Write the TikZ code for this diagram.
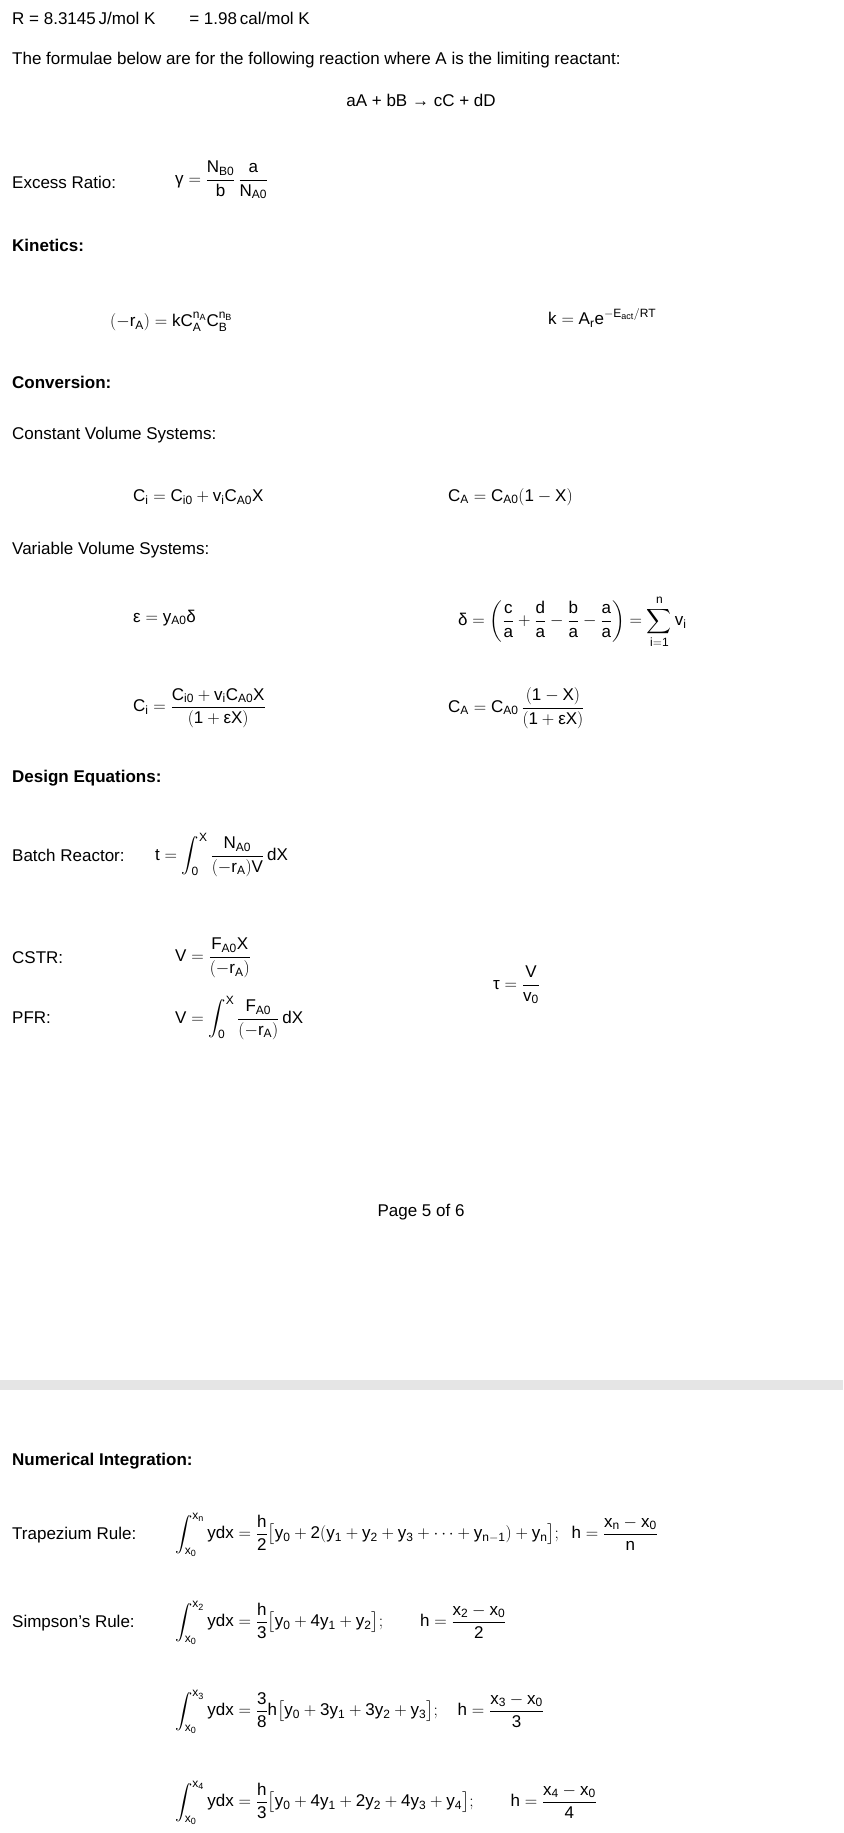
\documentclass[tikz,border=0pt]{standalone}
\usepackage{amsmath}
\usepackage{fontspec}
\setmainfont{Liberation Sans}
\DeclareMathSizes{17}{17}{12}{9}
\newcommand{\mr}[1]{\mathrm{#1}}
\begin{document}
\begin{tikzpicture}[x=1pt,y=-1pt,
    txt/.style={anchor=west,inner sep=0pt,font=\fontsize{17}{20}\selectfont},
    head/.style={txt,font=\fontsize{17}{20}\selectfont\bfseries},
    eqn/.style={txt}]

    \useasboundingbox[fill=white] (0,0) rectangle (843,1833);
    \fill[gray!20] (0,1380) rectangle (843,1390);

    \node[txt] (gas) at (12,18) {R = 8.3145\,J/mol K\qquad = 1.98\,cal/mol K};
    \node[txt] (intro) at (12,60) {The formulae below are for the following reaction where A is the limiting reactant:};
    \node[txt,anchor=center] (rxn) at (421,100) {aA + bB → cC + dD};

    \node[txt] (exl) at (12,182) {Excess Ratio:};
    \node[eqn] (exs) at (175,180) {$\displaystyle \text{γ} = \frac{\mr{N_{B0}}}{\mr{b}}\,\frac{\mr{a}}{\mr{N_{A0}}}$};

    \node[head] (kin) at (12,245) {Kinetics:};
    \node[eqn] (rate) at (110,322) {$(-\mr{r_A}) = \mr{kC_A^{n_A}C_B^{n_B}}$};
    \node[eqn] (arr) at (548,318) {$\mr{k} = \mr{A_re}^{-\mr{E_{act}}/\mr{RT}}$};

    \node[head] (conv) at (12,382) {Conversion:};
    \node[txt] (cvs) at (12,435) {Constant Volume Systems:};
    \node[eqn] (ci1) at (133,497) {$\mr{C_i} = \mr{C_{i0}} + \mr{v_iC_{A0}X}$};
    \node[eqn] (ca1) at (448,497) {$\mr{C_A} = \mr{C_{A0}}(\mr{1}-\mr{X})$};
    \node[txt] (vvs) at (12,550) {Variable Volume Systems:};
    \node[eqn] (eps) at (133,618) {$\text{ε} = \mr{y_{A0}}\text{δ}$};
    \node[eqn] (del) at (458,622) {$\displaystyle \text{δ} = \left(\frac{\mr{c}}{\mr{a}}+\frac{\mr{d}}{\mr{a}}-\frac{\mr{b}}{\mr{a}}-\frac{\mr{a}}{\mr{a}}\right) = \sum_{\mr{i=1}}^{\mr{n}}\mr{v_i}$};
    \node[eqn] (ci2) at (133,708) {$\displaystyle \mr{C_i} = \frac{\mr{C_{i0}} + \mr{v_iC_{A0}X}}{(\mr{1}+\text{ε}\mr{X})}$};
    \node[eqn] (ca2) at (448,708) {$\displaystyle \mr{C_A} = \mr{C_{A0}}\,\frac{(\mr{1}-\mr{X})}{(\mr{1}+\text{ε}\mr{X})}$};

    \node[head] (des) at (12,778) {Design Equations:};
    \node[txt] (batl) at (12,855) {Batch Reactor:};
    \node[eqn] (bat) at (155,855) {$\displaystyle \mr{t} = \int_{\mr{0}}^{\mr{X}} \frac{\mr{N_{A0}}}{(-\mr{r_A})\mr{V}}\,\mr{dX}$};
    \node[txt] (cstrl) at (12,958) {CSTR:};
    \node[eqn] (cstr) at (175,958) {$\displaystyle \mr{V} = \frac{\mr{F_{A0}X}}{(-\mr{r_A})}$};
    \node[eqn] (tau) at (493,985) {$\displaystyle \text{τ} = \frac{\mr{V}}{\mr{v_0}}$};
    \node[txt] (pfrl) at (12,1018) {PFR:};
    \node[eqn] (pfr) at (175,1018) {$\displaystyle \mr{V} = \int_{\mr{0}}^{\mr{X}} \frac{\mr{F_{A0}}}{(-\mr{r_A})}\,\mr{dX}$};

    \node[txt,anchor=center] (page) at (421,1212) {Page 5 of 6};

    % second page
    \node[head] (num) at (12,1461) {Numerical Integration:};
    \node[txt] (trapl) at (12,1535) {Trapezium Rule:};
    \node[eqn] (trap) at (175,1535) {$\displaystyle \int_{\mr{x_0}}^{\mr{x_n}}\mr{ydx} = \frac{\mr{h}}{\mr{2}}\bigl[\mr{y_0} + \mr{2}(\mr{y_1}+\mr{y_2}+\mr{y_3}+\cdots+\mr{y_{n-1}}) + \mr{y_n}\bigr];\;\; \mr{h} = \frac{\mr{x_n}-\mr{x_0}}{\mr{n}}$};
    \node[txt] (simpl) at (12,1623) {Simpson's Rule:};
    \node[eqn] (simp1) at (175,1623) {$\displaystyle \int_{\mr{x_0}}^{\mr{x_2}}\mr{ydx} = \frac{\mr{h}}{\mr{3}}\bigl[\mr{y_0} + \mr{4y_1} + \mr{y_2}\bigr];\qquad \mr{h} = \frac{\mr{x_2}-\mr{x_0}}{\mr{2}}$};
    \node[eqn] (simp2) at (175,1712) {$\displaystyle \int_{\mr{x_0}}^{\mr{x_3}}\mr{ydx} = \frac{\mr{3}}{\mr{8}}\mr{h}\bigl[\mr{y_0} + \mr{3y_1} + \mr{3y_2} + \mr{y_3}\bigr];\quad \mr{h} = \frac{\mr{x_3}-\mr{x_0}}{\mr{3}}$};
    \node[eqn] (simp3) at (175,1803) {$\displaystyle \int_{\mr{x_0}}^{\mr{x_4}}\mr{ydx} = \frac{\mr{h}}{\mr{3}}\bigl[\mr{y_0} + \mr{4y_1} + \mr{2y_2} + \mr{4y_3} + \mr{y_4}\bigr];\qquad \mr{h} = \frac{\mr{x_4}-\mr{x_0}}{\mr{4}}$};
\end{tikzpicture}
\end{document}
